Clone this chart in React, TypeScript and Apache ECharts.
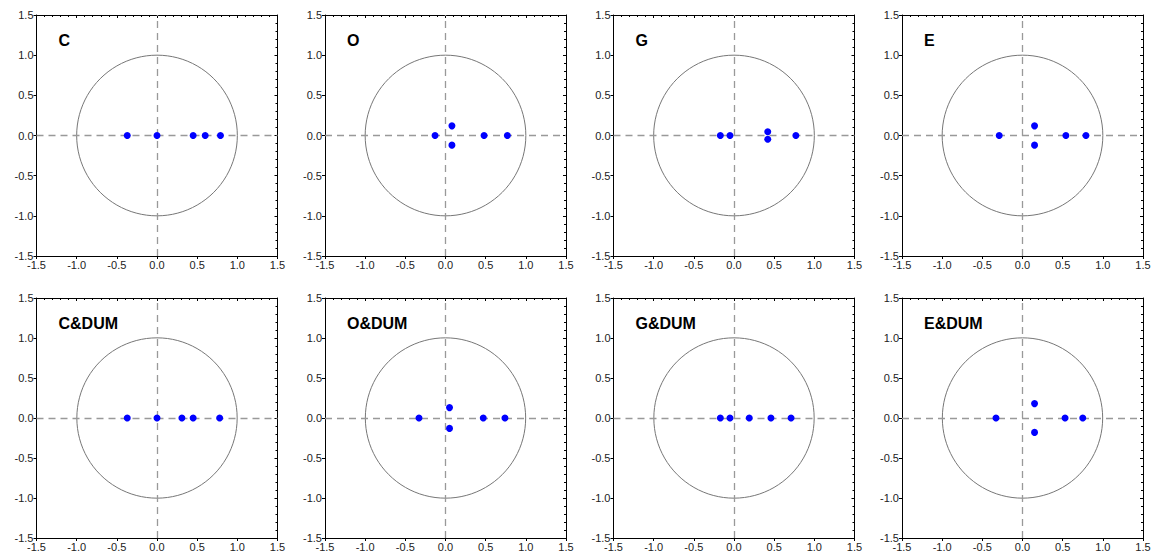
import React, { useEffect, useRef } from "react";
import * as echarts from "echarts";

const panelTitles = ["C", "O", "G", "E", "C&DUM", "O&DUM", "G&DUM", "E&DUM"];

const cX = [-0.37, 0.0, 0.45, 0.6, 0.79];
const cY = [0, 0, 0, 0, 0];
const oX = [-0.13, 0.08, 0.08, 0.48, 0.77];
const oY = [0, 0.12, -0.12, 0, 0];
const gX = [-0.17, -0.05, 0.42, 0.42, 0.77];
const gY = [0, 0, 0.047, -0.047, 0];
const eX = [-0.29, 0.15, 0.15, 0.54, 0.79];
const eY = [0, 0.12, -0.12, 0, 0];
const cdX = [-0.37, 0.0, 0.31, 0.45, 0.78];
const cdY = [0, 0, 0, 0, 0];
const odX = [-0.33, 0.05, 0.05, 0.47, 0.74];
const odY = [0, 0.13, -0.13, 0, 0];
const gdX = [-0.17, -0.05, 0.19, 0.46, 0.71];
const gdY = [0, 0, 0, 0, 0];
const edX = [-0.33, 0.15, 0.15, 0.53, 0.75];
const edY = [0, 0.18, -0.18, 0, 0];

const panelX = [cX, oX, gX, eX, cdX, odX, gdX, edX];
const panelY = [cY, oY, gY, eY, cdY, odY, gdY, edY];

const AXIS_MIN = -1.5;
const AXIS_MAX = 1.5;
const AXIS_STEP = 0.5;

const gridLefts = [36.5, 325, 613.5, 902];
const gridTops = [15, 298];
const gridW = 241;
const gridHs = [241, 240];

export default function App() {
  const ref = useRef<HTMLDivElement>(null);
  useEffect(() => {
    if (!ref.current) return;
    const chart = echarts.init(ref.current, null, { renderer: "svg" });
    const grids: any[] = [];
    const xAxes: any[] = [];
    const yAxes: any[] = [];
    const series: any[] = [];
    const titles: any[] = [];
    const font = "Liberation Sans, Arial, sans-serif";
    const fmt = (v: number) => v.toFixed(1);

    for (let i = 0; i < 8; i++) {
      const row = Math.floor(i / 4);
      const col = i % 4;
      grids.push({
        left: gridLefts[col],
        top: gridTops[row],
        width: gridW,
        height: gridHs[row],
        show: false,
      });
      const base = {
        type: "value",
        min: AXIS_MIN,
        max: AXIS_MAX,
        interval: AXIS_STEP,
        gridIndex: i,
        splitLine: { show: false },
      };
      xAxes.push({
        ...base,
        position: "bottom",
        axisLine: { show: true, onZero: false, lineStyle: { color: "#000", width: 1 } },
        axisTick: { show: true, inside: false, length: 3, lineStyle: { color: "#000" } },
        axisLabel: { show: true, formatter: fmt, color: "#222", fontSize: 11, fontFamily: font, margin: 3 },
      });
      xAxes.push({
        ...base,
        position: "top",
        axisLine: { show: true, onZero: false, lineStyle: { color: "#000", width: 1 } },
        axisTick: { show: true, inside: true, length: 3, lineStyle: { color: "#000" } },
        minorTick: { show: true, splitNumber: 5, length: 2, lineStyle: { color: "#000" } },
        axisLabel: { show: false },
      });
      yAxes.push({
        ...base,
        position: "left",
        axisLine: { show: true, onZero: false, lineStyle: { color: "#000", width: 1 } },
        axisTick: { show: true, inside: false, length: 3, lineStyle: { color: "#000" } },
        axisLabel: { show: true, formatter: fmt, color: "#222", fontSize: 11, fontFamily: font, margin: 3 },
      });
      yAxes.push({
        ...base,
        position: "right",
        axisLine: { show: true, onZero: false, lineStyle: { color: "#000", width: 1 } },
        axisTick: { show: true, inside: true, length: 3, lineStyle: { color: "#000" } },
        minorTick: { show: true, splitNumber: 5, length: 2, lineStyle: { color: "#000" } },
        axisLabel: { show: false },
      });

      const xi = i * 2;
      const yi = i * 2;
      series.push({
        type: "custom",
        xAxisIndex: xi,
        yAxisIndex: yi,
        silent: true,
        data: [[0, 0]],
        renderItem: (params: any, api: any) => {
          const c = api.coord([0, 0]);
          const s = api.size([1, 1]);
          return {
            type: "circle",
            shape: { cx: c[0], cy: c[1], r: (s[0] + s[1]) / 2 },
            style: { fill: "none", stroke: "#777", lineWidth: 1 },
          };
        },
        z: 1,
      });
      const xs = panelX[i];
      const ys = panelY[i];
      series.push({
        type: "scatter",
        xAxisIndex: xi,
        yAxisIndex: yi,
        symbol: "circle",
        symbolSize: 7,
        itemStyle: { color: "#0000ff", opacity: 1 },
        data: xs.map((x, k) => [x, ys[k]]),
        z: 3,
        markLine: {
          silent: true,
          symbol: ["none", "none"],
          label: { show: false },
          lineStyle: { color: "#999", type: [7, 5], width: 1.3, opacity: 1 },
          data: [{ xAxis: 0 }, { yAxis: 0 }],
          z: 2,
        },
      });
      titles.push({
        text: panelTitles[i],
        left: gridLefts[col] + 22,
        top: gridTops[row] + 17,
        padding: 0,
        textStyle: { fontSize: 16, fontWeight: "bold", color: "#000", fontFamily: font },
      });
    }

    chart.setOption({
      animation: false,
      backgroundColor: "#fff",
      title: titles,
      grid: grids,
      xAxis: xAxes,
      yAxis: yAxes,
      series,
    });
    return () => chart.dispose();
  }, []);
  return (
    <div
      ref={ref}
      style={{ position: "absolute", left: 0, top: 0, width: 1160, height: 555 }}
    />
  );
}
